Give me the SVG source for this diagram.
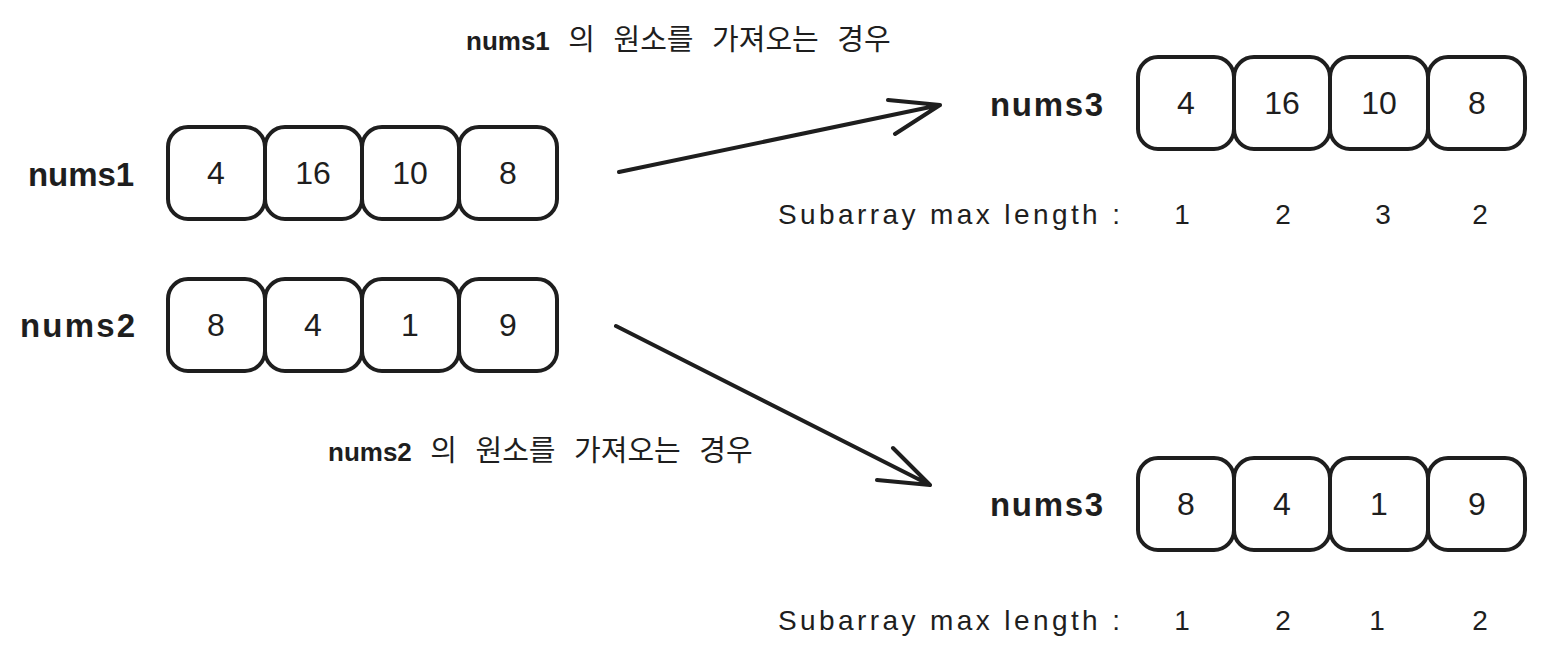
<svg xmlns="http://www.w3.org/2000/svg" width="1546" height="660" viewBox="0 0 1546 660">
<style>
.box{fill:#fff;stroke:#1e1e1e;stroke-width:4;}
.num{font-family:"Liberation Sans",sans-serif;font-size:32px;fill:#1e1e1e;text-anchor:middle;}
.lbl{font-family:"Liberation Sans",sans-serif;font-size:33px;font-weight:bold;fill:#1e1e1e;}
.sub{font-family:"Liberation Sans",sans-serif;font-size:28px;fill:#1e1e1e;}
.ko{font-family:"Noto Sans CJK KR",sans-serif;font-size:29px;fill:#1e1e1e;word-spacing:12px;}
.conn{fill:none;stroke:#1e1e1e;stroke-width:4;stroke-linecap:round;stroke-linejoin:round;}
</style>
<rect width="1546" height="660" fill="#fff"/>
<g id="title1"><text x="466" y="50" class="ko"><tspan font-family="Liberation Sans,sans-serif" font-weight="bold" font-size="26">nums1</tspan> 의 원소를 가져오는 경우</text></g>
<g id="title2"><text x="328" y="461" class="ko"><tspan font-family="Liberation Sans,sans-serif" font-weight="bold" font-size="26">nums2</tspan> 의 원소를 가져오는 경우</text></g>
<g id="nums1">
<text x="28" y="186" class="lbl" textLength="106">nums1</text>
<rect class="box" x="168" y="127" width="97" height="92" rx="20"/>
<rect class="box" x="265" y="127" width="97" height="92" rx="20"/>
<rect class="box" x="362" y="127" width="97" height="92" rx="20"/>
<rect class="box" x="459" y="127" width="98" height="92" rx="20"/>
<text x="216" y="184" class="num">4</text>
<text x="313" y="184" class="num">16</text>
<text x="410" y="184" class="num">10</text>
<text x="508" y="184" class="num">8</text>
</g>
<g id="nums2">
<text x="20" y="337" class="lbl" textLength="115">nums2</text>
<rect class="box" x="168" y="279" width="97" height="92" rx="20"/>
<rect class="box" x="265" y="279" width="97" height="92" rx="20"/>
<rect class="box" x="362" y="279" width="97" height="92" rx="20"/>
<rect class="box" x="459" y="279" width="98" height="92" rx="20"/>
<text x="216" y="336" class="num">8</text>
<text x="313" y="336" class="num">4</text>
<text x="410" y="336" class="num">1</text>
<text x="508" y="336" class="num">9</text>
</g>
<g id="nums3a">
<text x="990" y="116" class="lbl" textLength="113">nums3</text>
<rect class="box" x="1138" y="57" width="96" height="92" rx="20"/>
<rect class="box" x="1234" y="57" width="96" height="92" rx="20"/>
<rect class="box" x="1330" y="57" width="98" height="92" rx="20"/>
<rect class="box" x="1428" y="57" width="97" height="92" rx="20"/>
<text x="1186" y="114" class="num">4</text>
<text x="1282" y="114" class="num">16</text>
<text x="1379" y="114" class="num">10</text>
<text x="1477" y="114" class="num">8</text>
</g>
<g id="sub1">
<text x="778" y="224" class="sub" textLength="342" lengthAdjust="spacing">Subarray max length :</text>
<text x="1182" y="224" class="sub" text-anchor="middle">1</text>
<text x="1283" y="224" class="sub" text-anchor="middle">2</text>
<text x="1383" y="224" class="sub" text-anchor="middle">3</text>
<text x="1480" y="224" class="sub" text-anchor="middle">2</text>
</g>
<g id="nums3b">
<text x="990" y="516" class="lbl" textLength="113">nums3</text>
<rect class="box" x="1138" y="458" width="96" height="92" rx="20"/>
<rect class="box" x="1234" y="458" width="96" height="92" rx="20"/>
<rect class="box" x="1330" y="458" width="98" height="92" rx="20"/>
<rect class="box" x="1428" y="458" width="97" height="92" rx="20"/>
<text x="1186" y="515" class="num">8</text>
<text x="1282" y="515" class="num">4</text>
<text x="1379" y="515" class="num">1</text>
<text x="1477" y="515" class="num">9</text>
</g>
<g id="sub2">
<text x="778" y="630" class="sub" textLength="342" lengthAdjust="spacing">Subarray max length :</text>
<text x="1182" y="630" class="sub" text-anchor="middle">1</text>
<text x="1283" y="630" class="sub" text-anchor="middle">2</text>
<text x="1377" y="630" class="sub" text-anchor="middle">1</text>
<text x="1480" y="630" class="sub" text-anchor="middle">2</text>
</g>
<g id="connectors">
<path class="conn" d="M619 172 L940 105 M888 100 L940 105 L895 134"/>
<path class="conn" d="M616 326 L930 485 M893 448 L930 485 L877 480"/>
</g>
</svg>
